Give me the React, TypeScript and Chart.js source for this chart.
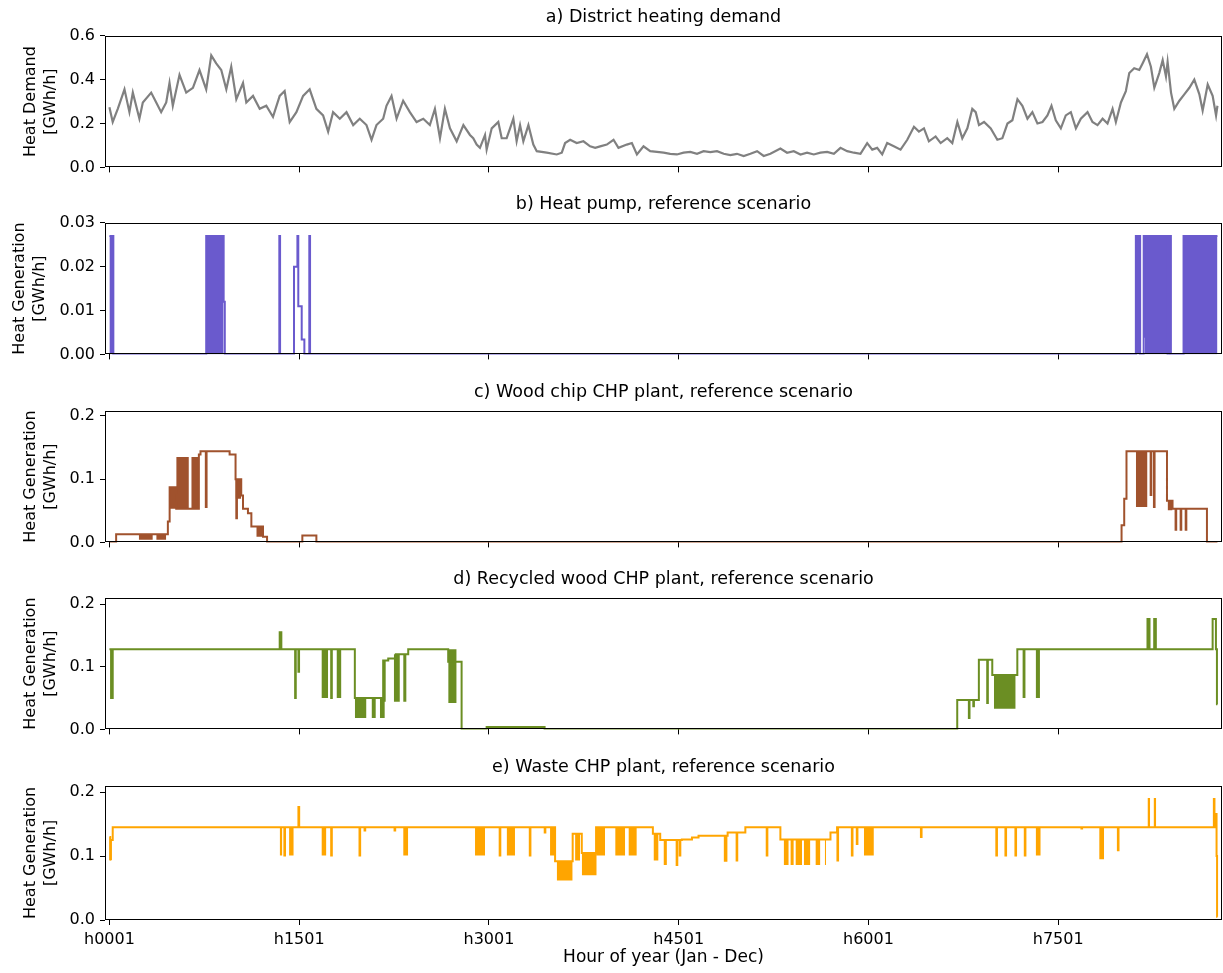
import React, { useEffect, useRef } from "react";
import { Chart, registerables } from "chart.js";

Chart.register(...registerables);
Chart.defaults.font.family = "'DejaVu Sans', sans-serif";
Chart.defaults.color = "#000";

// ---------- shared x axis ----------
const xTickHours = [0, 1500, 3000, 4500, 6000, 7500];
const xTickLabels = ["h0001", "h1501", "h3001", "h4501", "h6001", "h7501"];
const X_MIN = -35;
const X_MAX = 8795;
const xTitle = "Hour of year (Jan - Dec)";

// ---------- a) District heating demand ----------
const demandHours = [0,26,66,119,158,185,237,264,330,370,409,449,475,501,554,607,660,712,765,805,844,884,924,963,1003,1056,1082,1135,1188,1240,1293,1346,1385,1425,1478,1531,1583,1636,1689,1729,1768,1821,1874,1927,1979,2032,2072,2111,2164,2190,2230,2270,2322,2375,2428,2481,2533,2573,2613,2652,2692,2745,2798,2850,
  2876,2903,2929,2969,2982,3022,3074,3101,3140,3167,3193,3219,3246,3272,3312,3351,3378,3457,3536,3576,3602,3642,3694,3747,3800,3840,3879,3932,3985,4024,4090,4130,4170,4222,4275,4328,4381,4433,4486,4539,4592,4645,4697,4750,4803,4856,4908,4961,5014,5067,5120,5172,5225,5304,5357,5410,5463,5515,5568,5621,5674,5727,
  5779,5832,5885,5937,5990,6030,6069,6109,6148,6201,6254,6307,6360,6399,6439,6478,6531,6571,6623,6663,6703,6742,6782,6821,6848,6874,6914,6967,7019,7059,7099,7138,7178,7217,7257,7296,7336,7376,7415,7447,7481,7521,7560,7600,7640,7679,7732,7771,7811,7851,7890,7930,7956,7996,8035,8062,8101,8141,8167,8202,8233,8260,8299,8326,8352,8365,8392,8418,8458,8497,8537,8576,8616,8642,8682,8721,8748,8759];
const demandValues = [0.274,0.207,0.267,0.356,0.252,0.341,0.222,0.296,0.341,0.296,0.252,0.296,0.385,0.281,0.422,0.341,0.363,0.444,0.356,0.511,0.474,0.444,0.356,0.459,0.311,0.385,0.296,0.326,0.267,0.281,0.230,0.326,0.348,0.207,0.252,0.326,0.356,0.267,0.237,0.163,0.252,0.222,0.252,0.193,0.222,0.193,0.126,0.193,0.222,0.281,0.326,0.222,0.304,0.252,0.207,0.222,0.193,0.267,0.133,0.267,0.178,0.119,0.193,0.148,
  0.133,0.104,0.089,0.148,0.081,0.178,0.207,0.133,0.133,0.178,0.222,0.119,0.193,0.119,0.193,0.104,0.074,0.067,0.059,0.067,0.111,0.126,0.111,0.119,0.096,0.089,0.096,0.104,0.126,0.089,0.104,0.111,0.059,0.096,0.074,0.071,0.067,0.062,0.059,0.067,0.071,0.062,0.074,0.070,0.074,0.062,0.056,0.062,0.052,0.062,0.074,0.052,0.062,0.086,0.067,0.074,0.059,0.067,0.059,0.067,0.071,0.062,
  0.089,0.074,0.067,0.062,0.111,0.081,0.089,0.059,0.111,0.096,0.081,0.126,0.185,0.163,0.178,0.119,0.141,0.111,0.133,0.111,0.207,0.133,0.178,0.267,0.252,0.193,0.207,0.178,0.126,0.133,0.200,0.215,0.311,0.281,0.222,0.252,0.200,0.207,0.237,0.281,0.215,0.178,0.237,0.252,0.178,0.222,0.252,0.207,0.193,0.222,0.200,0.267,0.207,0.296,0.348,0.430,0.452,0.444,0.474,0.516,0.459,0.363,0.430,0.489,0.415,0.481,0.341,0.267,0.304,0.333,0.363,0.400,0.333,0.259,0.378,0.326,0.237,0.281];

// ---------- b) Heat pump ----------
const heatPumpHours = [0,31,765,903,912,1343,1349,1459,1486,1493,1520,1541,1580,1586,8114,8148,8176,8181,8186,8365,8378,8391,8491,8759];
const heatPumpValues = [0.027,0,0.027,0.012,0,0.027,0,0.020,0.027,0.011,0.0034,0,0.027,0,0.027,0,0.027,0.004,0.027,0,0.027,0,0.027,0.027];
// dense on/off periods: [start hour, end hour, low, high]
const heatPumpBands = [[0,31,0,0.027],[765,903,0,0.027],[8114,8148,0,0.027],[8186,8365,0,0.027],[8378,8391,0,0.027],[8491,8759,0,0.027]];

// ---------- c) Wood chip CHP ----------
const woodChipHours = [0,53,462,476,528,628,647,707,720,762,768,950,997,1003,1008,1042,1056,1095,1122,1214,1246,1525,1636,8001,8022,8040,8231,8236,8257,8262,8360,8404,8428,8433,8468,8473,8508,8513,8676,8759];
const woodChipValues = [0,0.013,0.033,0.087,0.053,0.053,0.053,0.139,0.144,0.056,0.144,0.139,0.100,0.038,0.100,0.074,0.053,0.046,0.025,0.009,0,0.011,0,0.027,0.069,0.144,0.075,0.144,0.056,0.144,0.066,0.053,0.020,0.053,0.020,0.053,0.020,0.053,0,0];
const woodChipBands = [[232,343,0.004,0.013],[370,449,0.004,0.013],[476,528,0.053,0.087],[528,628,0.053,0.135],[647,707,0.053,0.135],[997,1042,0.069,0.100],[1161,1214,0.009,0.025],[8114,8206,0.056,0.144],[8365,8404,0.051,0.066]];

// ---------- d) Recycled wood CHP ----------
const recycledHours = [0,13,26,1346,1359,1468,1473,1494,1499,1753,1758,1940,2164,2204,2264,2362,2678,2784,2982,3440,6702,6794,6799,6829,6834,6873,6939,6944,6979,7177,8206,8222,8259,8272,8721,8747,8755,8759];
const recycledValues = [0.128,0.050,0.128,0.155,0.128,0.050,0.128,0.092,0.128,0.050,0.128,0.050,0.110,0.113,0.120,0.128,0.108,0,0.004,0,0.047,0.018,0.047,0.037,0.047,0.111,0.042,0.111,0.087,0.128,0.176,0.128,0.176,0.128,0.176,0.128,0.040,0.040];
const recycledBands = [[1676,1729,0.050,0.128],[1795,1834,0.050,0.128],[1940,2032,0.018,0.050],[2072,2106,0.018,0.050],[2138,2177,0.018,0.050],[2164,2185,0.044,0.110],[2248,2296,0.044,0.120],[2322,2349,0.044,0.120],[2678,2745,0.042,0.128],[6992,7164,0.033,0.087],[7217,7243,0.050,0.128],[7322,7356,0.050,0.128]];

// ---------- e) Waste CHP ----------
const wasteHours = [0,6,12,26,1383,1388,1494,1500,1753,1758,1977,1982,2017,2022,2254,2259,3085,3090,3323,3328,3441,3446,3523,3662,3734,3847,4296,4354,4484,4489,4508,4513,4525,4605,4657,4887,4958,4963,5027,5196,5201,5304,5700,5752,5755,5760,5869,5874,5908,5913,6415,6420,7011,7016,7083,7088,7162,7167,7236,7241,7684,7689,7972,7977,8745,8752,8756,8759];
const wasteValues = [0.130,0.095,0.125,0.145,0.101,0.145,0.177,0.145,0.101,0.145,0.101,0.145,0.140,0.145,0.140,0.145,0.101,0.145,0.101,0.145,0.137,0.145,0.092,0.135,0.105,0.145,0.135,0.125,0.086,0.125,0.101,0.125,0.126,0.129,0.132,0.137,0.093,0.137,0.145,0.101,0.145,0.126,0.137,0.145,0.093,0.145,0.101,0.145,0.119,0.145,0.130,0.145,0.101,0.145,0.101,0.145,0.101,0.145,0.101,0.145,0.143,0.145,0.109,0.145,0.166,0.100,0.005,0.005];
const wasteBands = [[0,13,0.093,0.130],[1346,1367,0.101,0.145],[1420,1457,0.101,0.145],[1676,1715,0.101,0.145],[2322,2362,0.101,0.145],[2890,2969,0.101,0.145],[3140,3206,0.101,0.145],[3483,3523,0.101,0.145],[3536,3662,0.062,0.092],[3681,3720,0.093,0.135],[3734,3852,0.070,0.105],[3847,3918,0.101,0.145],[3998,4077,0.101,0.145],[4103,4169,0.101,0.145],[4301,4341,0.093,0.135],[4380,4407,0.086,0.125],[4855,4887,0.091,0.132],[5330,5370,0.086,0.126],[5383,5410,0.086,0.126],[5423,5475,0.086,0.126],[5489,5541,0.086,0.126],[5581,5620,0.086,0.126],[5655,5665,0.086,0.126],[5964,6043,0.101,0.145],[7322,7362,0.101,0.145],[7824,7863,0.095,0.145],[8206,8227,0.145,0.191],[8254,8275,0.145,0.191],[8721,8745,0.145,0.191]];

// ---------- axis ticks ----------
const demandTicks = [0, 0.2, 0.4, 0.6];
const heatPumpTicks = [0, 0.01, 0.02, 0.03];
const generationTicks = [0, 0.1, 0.2];

type Panel = {
  title: string;
  yLabel: string[];
  hours: number[];
  values: number[];
  bands: number[][];
  color: string;
  stepped: boolean;
  lineWidth: number;
  yMax: number;
  yTicks: number[];
  decimals: number;
  yTitlePad: number;
  plotTop: number;
  showX: boolean;
};

const PLOT_H = 134;
const TITLE_BOX = 33;

const panels: Panel[] = [
  { title: "a) District heating demand", yLabel: ["Heat Demand", "[GWh/h]"], hours: demandHours, values: demandValues, bands: [], color: "#808080", stepped: false, lineWidth: 2.2, yMax: 0.6, yTicks: demandTicks, decimals: 1, yTitlePad: 21, plotTop: 36, showX: false },
  { title: "b) Heat pump, reference scenario", yLabel: ["Heat Generation", "[GWh/h]"], hours: heatPumpHours, values: heatPumpValues, bands: heatPumpBands, color: "#6A5ACD", stepped: true, lineWidth: 2, yMax: 0.03, yTicks: heatPumpTicks, decimals: 2, yTitlePad: 10, plotTop: 223, showX: false },
  { title: "c) Wood chip CHP plant, reference scenario", yLabel: ["Heat Generation", "[GWh/h]"], hours: woodChipHours, values: woodChipValues, bands: woodChipBands, color: "#A0522D", stepped: true, lineWidth: 2, yMax: 0.208, yTicks: generationTicks, decimals: 1, yTitlePad: 20.5, plotTop: 411, showX: false },
  { title: "d) Recycled wood CHP plant, reference scenario", yLabel: ["Heat Generation", "[GWh/h]"], hours: recycledHours, values: recycledValues, bands: recycledBands, color: "#6B8E23", stepped: true, lineWidth: 2, yMax: 0.21, yTicks: generationTicks, decimals: 1, yTitlePad: 20.5, plotTop: 598, showX: false },
  { title: "e) Waste CHP plant, reference scenario", yLabel: ["Heat Generation", "[GWh/h]"], hours: wasteHours, values: wasteValues, bands: wasteBands, color: "#FFA500", stepped: true, lineWidth: 2, yMax: 0.21, yTicks: generationTicks, decimals: 1, yTitlePad: 20.5, plotTop: 786, showX: true },
];

const framePlugin = {
  id: "frame",
  afterDatasetsDraw(chart: any) {
    const { ctx, chartArea: a } = chart;
    ctx.save();
    ctx.strokeStyle = "#000";
    ctx.lineWidth = 1;
    const l = Math.round(a.left) + 0.5;
    const t = Math.round(a.top) + 0.5;
    const r = Math.round(a.right) - 0.5;
    const b = Math.round(a.bottom) - 0.5;
    ctx.strokeRect(l, t, r - l, b - t);
    ctx.restore();
  },
};

function PanelChart({ cfg }: { cfg: Panel }) {
  const ref = useRef<HTMLCanvasElement>(null);
  const bottomH = cfg.showX ? 50 : 12;
  const height = TITLE_BOX + PLOT_H + bottomH;
  const top = cfg.plotTop - TITLE_BOX;

  useEffect(() => {
    if (!ref.current) return;
    const datasets: any[] = [
      {
        data: cfg.hours.map((h, i) => ({ x: h, y: cfg.values[i] })),
        borderColor: cfg.color,
        backgroundColor: cfg.color,
        borderWidth: cfg.lineWidth,
        pointRadius: 0,
        stepped: cfg.stepped,
        fill: false,
        tension: 0,
        borderJoinStyle: "miter",
      },
    ];
    cfg.bands.forEach((b) => {
      datasets.push({
        data: [
          { x: b[0], y: b[3] },
          { x: b[1], y: b[3] },
        ],
        borderColor: cfg.color,
        backgroundColor: cfg.color,
        borderWidth: 0,
        pointRadius: 0,
        fill: { value: b[2] },
      });
    });

    const tickFont = { size: 16 };
    const chart = new Chart(ref.current, {
      type: "line",
      data: { datasets },
      plugins: [framePlugin],
      options: {
        animation: false,
        responsive: false,
        devicePixelRatio: 1,
        events: [],
        layout: { padding: { left: 0, right: 1, top: 0, bottom: 0 } },
        plugins: {
          legend: { display: false },
          tooltip: { enabled: false },
          title: {
            display: true,
            text: cfg.title,
            fullSize: false,
            align: "center",
            color: "#000",
            font: { size: 17.5, weight: "normal", lineHeight: 1.2 },
            padding: { top: 4, bottom: 7.8 },
          },
        },
        scales: {
          x: {
            type: "linear",
            min: X_MIN,
            max: X_MAX,
            afterBuildTicks: (s: any) => {
              s.ticks = xTickHours.map((v) => ({ value: v }));
            },
            afterFit: (s: any) => {
              s.height = bottomH;
            },
            ticks: {
              display: cfg.showX,
              autoSkip: false,
              maxRotation: 0,
              padding: 5,
              color: "#000",
              font: tickFont,
              callback: (v: any) => {
                const i = xTickHours.indexOf(Number(v));
                return i >= 0 ? xTickLabels[i] : "";
              },
            },
            grid: { drawOnChartArea: false, drawTicks: true, tickLength: 5, color: "#000", lineWidth: 1 },
            border: { display: false },
            title: {
              display: cfg.showX,
              text: xTitle,
              color: "#000",
              font: { size: 17 },
              padding: { top: 0, bottom: 2 },
            },
          },
          y: {
            type: "linear",
            min: 0,
            max: cfg.yMax,
            afterBuildTicks: (s: any) => {
              s.ticks = cfg.yTicks.map((v) => ({ value: v }));
            },
            afterFit: (s: any) => {
              s.width = 105;
            },
            ticks: {
              padding: 5,
              color: "#000",
              font: tickFont,
              callback: (v: any) => Number(v).toFixed(cfg.decimals),
            },
            grid: { drawOnChartArea: false, drawTicks: true, tickLength: 5, color: "#000", lineWidth: 1 },
            border: { display: false },
            title: {
              display: true,
              text: cfg.yLabel,
              color: "#000",
              font: { size: 16, lineHeight: 1.25 },
              padding: { top: cfg.yTitlePad, bottom: 0 },
            },
          },
        },
      } as any,
    });
    return () => chart.destroy();
  }, []);

  return (
    <canvas
      ref={ref}
      width={1223}
      height={height}
      style={{ position: "absolute", left: 0, top, width: 1223, height, display: "block" }}
    />
  );
}

export default function App() {
  return (
    <div style={{ position: "absolute", left: 0, top: 0, width: 1223, height: 973, background: "#fff" }}>
      {panels.map((p) => (
        <PanelChart key={p.title} cfg={p} />
      ))}
    </div>
  );
}
